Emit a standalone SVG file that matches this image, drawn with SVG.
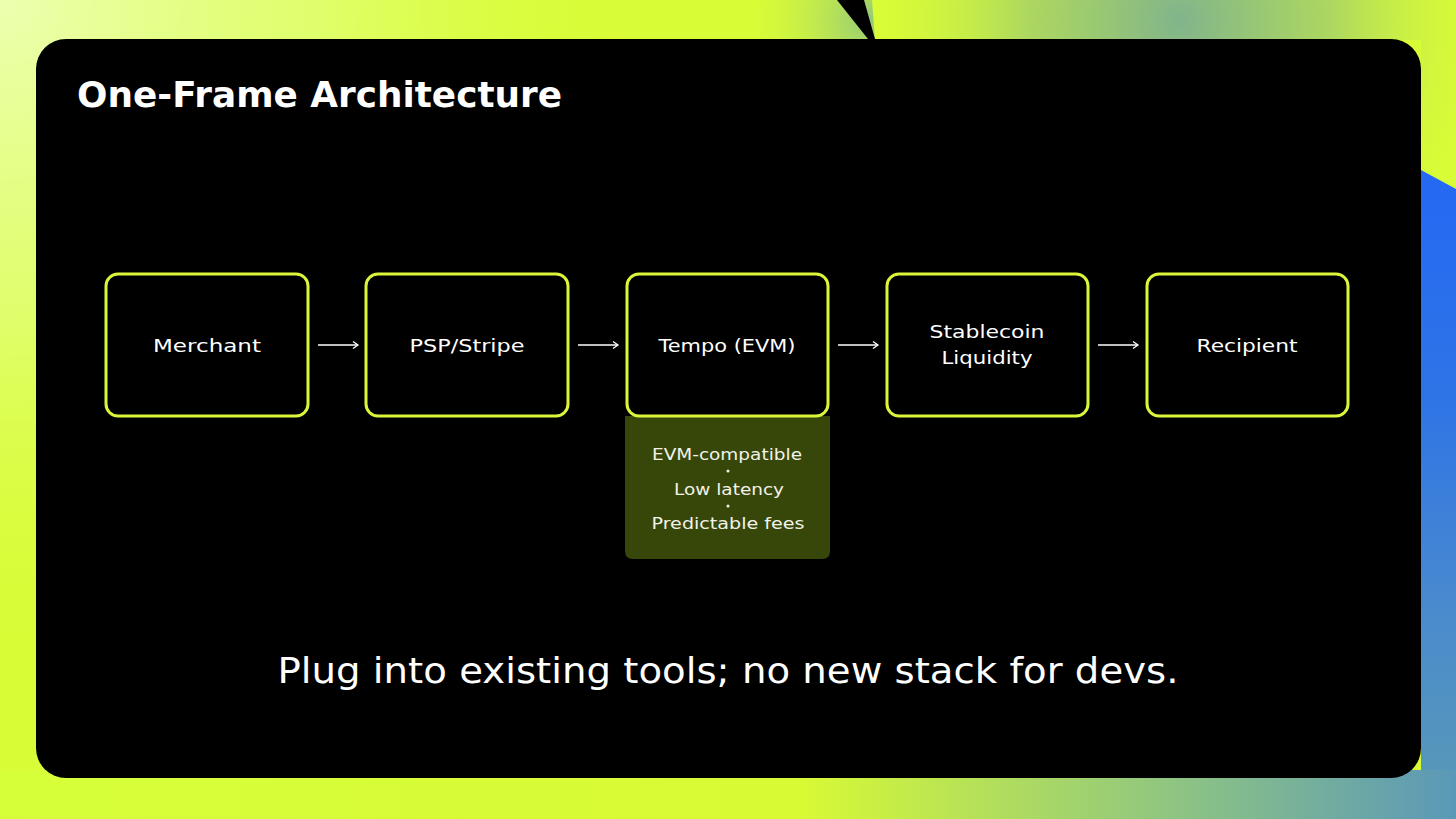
<svg xmlns="http://www.w3.org/2000/svg" width="1456" height="819" viewBox="0 0 1456 819">
  <defs>
    <radialGradient id="paleCorner" cx="0" cy="0" r="650" gradientUnits="userSpaceOnUse">
      <stop offset="0" stop-color="#ecffb0"/>
      <stop offset="0.5" stop-color="#e2ff80" stop-opacity="0.7"/>
      <stop offset="1" stop-color="#dcff3c" stop-opacity="0"/>
    </radialGradient>
    <radialGradient id="tealGlow" cx="1180" cy="20" r="300" gradientUnits="userSpaceOnUse">
      <stop offset="0" stop-color="#80b48c"/>
      <stop offset="0.5" stop-color="#a4d068" stop-opacity="0.85"/>
      <stop offset="1" stop-color="#c8ee4a" stop-opacity="0"/>
    </radialGradient>
    <radialGradient id="nearTri" cx="870" cy="20" r="120" gradientUnits="userSpaceOnUse">
      <stop offset="0" stop-color="#94c878"/>
      <stop offset="1" stop-color="#c8ee4a" stop-opacity="0"/>
    </radialGradient>
    <linearGradient id="blueSide" x1="0" y1="0" x2="0" y2="1">
      <stop offset="0" stop-color="#2468f4"/>
      <stop offset="0.35" stop-color="#2f74e6"/>
      <stop offset="0.7" stop-color="#4b8ccc"/>
      <stop offset="1" stop-color="#5a9ab4"/>
    </linearGradient>
    <linearGradient id="bottomBand" x1="0" y1="0" x2="1" y2="0">
      <stop offset="0" stop-color="#d6ff3a"/>
      <stop offset="0.55" stop-color="#d8fa34"/>
      <stop offset="0.8" stop-color="#90c680"/>
      <stop offset="1" stop-color="#5a98b8"/>
    </linearGradient>
    <marker id="arr" markerWidth="10" markerHeight="10" refX="8" refY="5" orient="auto" markerUnits="userSpaceOnUse">
      <path d="M3,1.5 L8,5 L3,8.5" fill="none" stroke="#ffffff" stroke-width="1.3"/>
    </marker>
    <style>
      .box { fill: #000000; stroke: #dcf53a; stroke-width: 3; }
      .lbl { font-family: "DejaVu Sans", "Liberation Sans", sans-serif; font-size: 18px; fill: #ffffff; text-anchor: middle; }
      .sub { font-family: "DejaVu Sans", "Liberation Sans", sans-serif; font-size: 16px; fill: #f2f2e8; text-anchor: middle; }
      .conn { stroke: #ffffff; stroke-width: 1.3; fill: none; marker-end: url(#arr); }
    </style>
  </defs>

  <!-- background -->
  <rect x="0" y="0" width="1456" height="819" fill="#d8fc36"/>
  <rect x="0" y="0" width="1456" height="819" fill="url(#paleCorner)"/>
  <polygon points="760,0 872,0 875,40 760,40" fill="url(#nearTri)"/>
  <polygon points="872,0 1456,0 1456,190 1421,170 1421,40 875,40" fill="url(#tealGlow)"/>
  <polygon points="1421,170 1456,189 1456,819 1421,819" fill="url(#blueSide)"/>
  <rect x="0" y="770" width="1456" height="49" fill="url(#bottomBand)"/>
  <polygon points="837,0 864,0 875,39 868,39" fill="#000000"/>

  <!-- panel -->
  <rect id="panel" x="36" y="39" width="1385" height="739" rx="30" fill="#000000"/>

  <text x="77" y="107" font-family="'DejaVu Sans', 'Liberation Sans', sans-serif" font-weight="bold" font-size="36" fill="#ffffff" textLength="485" lengthAdjust="spacingAndGlyphs">One-Frame Architecture</text>

  <!-- connectors -->
  <g id="connectors">
    <line class="conn" x1="318" y1="345" x2="358" y2="345"/>
    <line class="conn" x1="578" y1="345" x2="618" y2="345"/>
    <line class="conn" x1="838" y1="345" x2="878" y2="345"/>
    <line class="conn" x1="1098" y1="345" x2="1138" y2="345"/>
  </g>

  <g id="merchant">
    <rect class="box" x="106" y="274" width="202" height="142" rx="12"/>
    <text class="lbl" x="207" y="352" textLength="108" lengthAdjust="spacingAndGlyphs">Merchant</text>
  </g>

  <g id="psp">
    <rect class="box" x="366" y="274" width="202" height="142" rx="12"/>
    <text class="lbl" x="467" y="352" textLength="115" lengthAdjust="spacingAndGlyphs">PSP/Stripe</text>
  </g>

  <g id="tempo">
    <path d="M625,416 L830,416 L830,551 Q830,559 822,559 L633,559 Q625,559 625,551 Z" fill="#364709"/>
    <rect class="box" x="627" y="274" width="201" height="142" rx="12"/>
    <text class="lbl" x="727" y="352" textLength="137" lengthAdjust="spacingAndGlyphs">Tempo (EVM)</text>
    <text class="sub" x="727" y="460" textLength="150" lengthAdjust="spacingAndGlyphs">EVM-compatible</text>
    <circle cx="728" cy="471" r="1.5" fill="#f2f2e8"/>
    <text class="sub" x="729" y="495" textLength="110" lengthAdjust="spacingAndGlyphs">Low latency</text>
    <circle cx="728" cy="506" r="1.5" fill="#f2f2e8"/>
    <text class="sub" x="728" y="529" textLength="153" lengthAdjust="spacingAndGlyphs">Predictable fees</text>
  </g>

  <g id="stablecoin">
    <rect class="box" x="887" y="274" width="201" height="142" rx="12"/>
    <text class="lbl" x="987" y="338" textLength="115" lengthAdjust="spacingAndGlyphs">Stablecoin</text>
    <text class="lbl" x="987" y="364" textLength="91" lengthAdjust="spacingAndGlyphs">Liquidity</text>
  </g>

  <g id="recipient">
    <rect class="box" x="1147" y="274" width="201" height="142" rx="12"/>
    <text class="lbl" x="1247" y="352" textLength="101" lengthAdjust="spacingAndGlyphs">Recipient</text>
  </g>

  <text x="728" y="683" font-family="'DejaVu Sans', 'Liberation Sans', sans-serif" font-size="36" fill="#ffffff" text-anchor="middle" textLength="901" lengthAdjust="spacingAndGlyphs">Plug into existing tools; no new stack for devs.</text>
</svg>
